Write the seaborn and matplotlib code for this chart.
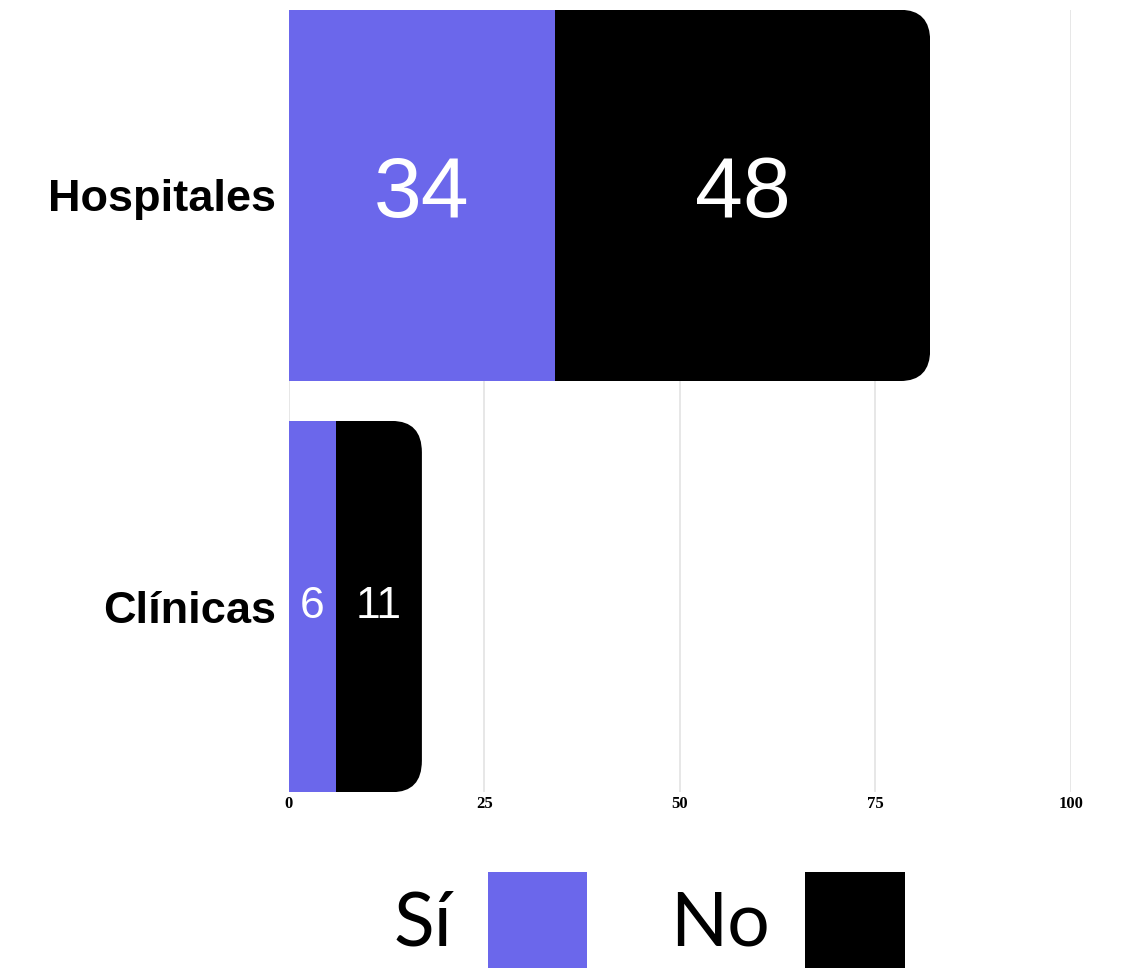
import matplotlib
matplotlib.use("Agg")
import matplotlib.pyplot as plt
from matplotlib.patches import FancyBboxPatch
import numpy as np
import pandas as pd
import seaborn as sns

# data
categories = ["Hospitales", "Clínicas"]
si_values = [34, 6]
no_values = [48, 11]
series_names = ["Sí", "No"]
x_ticks = [0, 25, 50, 75, 100]

# style
SI_COLOR = "#6b67eb"
NO_COLOR = "#000000"
label_sizes = [62, 32]

sns.set_style("white")
plt.rcParams["font.family"] = ["Liberation Sans", "DejaVu Sans"]
plt.rcParams["text.color"] = "black"
plt.rcParams["xtick.color"] = "black"
plt.rcParams["ytick.color"] = "black"

df = pd.DataFrame({"category": categories, "si": si_values, "no": no_values})
df["total"] = df["si"] + df["no"]

fig = plt.figure(figsize=(11.23, 9.68), dpi=100)
ax = fig.add_axes([0.2573, 0.1818, 0.6964, 0.8079])

# total bar (black) underneath, Sí bar on top -> stacked look
sns.barplot(data=df, x="total", y="category", color=NO_COLOR, saturation=1,
            width=0.903, orient="h", ax=ax, zorder=2, linewidth=0)
n_total = len(ax.patches)
sns.barplot(data=df, x="si", y="category", color=SI_COLOR, saturation=1,
            width=0.903, orient="h", ax=ax, zorder=3, linewidth=0)

ax.set_xlim(0, 100)
ax.set_ylim(len(categories) - 0.549, -0.451)

# rounded right corners on the black bars
bb = ax.get_window_extent()
px_x = bb.width / 100.0
px_y = bb.height / (len(categories) + 0.0)
radius_px = 30
rx = radius_px / px_x
ry = radius_px / px_y
for bar in ax.patches[:n_total]:
    x0, y0 = bar.get_x(), bar.get_y()
    w, h = bar.get_width(), bar.get_height()
    clip = FancyBboxPatch((x0 - 20, y0), w + 20, h,
                          boxstyle=f"round,pad=0,rounding_size={rx}",
                          mutation_aspect=ry / rx,
                          transform=ax.transData)
    bar.set_clip_path(clip)

# value labels
for i, (s, n) in enumerate(zip(si_values, no_values)):
    ax.text(s / 2, i, str(s), ha="center", va="center", color="white",
            fontsize=label_sizes[i], zorder=5)
    ax.text(s + n / 2, i, str(n), ha="center", va="center", color="white",
            fontsize=label_sizes[i], zorder=5)

ax.set_xticks(x_ticks)
ax.set_xticklabels([str(t) for t in x_ticks], family="Liberation Serif",
                   fontweight="bold", fontsize=12)
ax.tick_params(axis="x", length=0, pad=3)
ax.tick_params(axis="y", length=0, pad=9)
for lab in ax.get_yticklabels():
    lab.set_fontsize(32.5)
    lab.set_fontweight("bold")
ax.set_xlabel("")
ax.set_ylabel("")
ax.grid(axis="x", color="#e3e3e3", linewidth=1.2, zorder=0)
ax.grid(axis="y", visible=False)
ax.set_axisbelow(True)
for sp in ax.spines.values():
    sp.set_visible(False)

# legend at the bottom, text before the swatch
handles = [plt.Rectangle((0, 0), 1, 1, color=SI_COLOR, linewidth=0),
           plt.Rectangle((0, 0), 1, 1, color=NO_COLOR, linewidth=0)]
fig.legend(handles, series_names, loc="center", bbox_to_anchor=(0.578, 0.049),
           ncol=2, frameon=False, markerfirst=False,
           prop={"family": "Lato", "size": 54},
           handlelength=1.33, handleheight=1.6, handletextpad=0.47,
           columnspacing=1.1, borderaxespad=0, borderpad=0)

fig.savefig("out.png", dpi=100)
